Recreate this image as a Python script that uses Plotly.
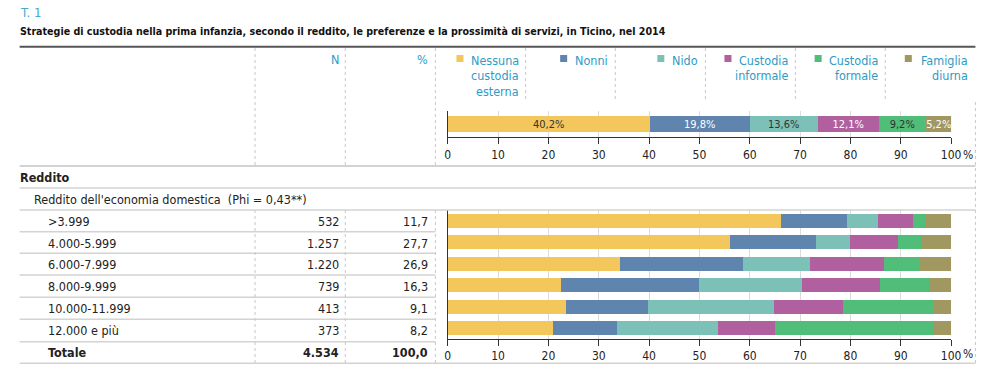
import plotly.graph_objects as go

W, H = 989, 368
FONT = "DejaVu Sans Condensed"
BLUE_TXT = "#2e9bc4"

# ---------------- data ----------------
series = ["Nessuna custodia esterna", "Nonni", "Nido", "Custodia informale",
          "Custodia formale", "Famiglia diurna"]
legend_lines = [["Nessuna", "custodia", "esterna"], ["Nonni"], ["Nido"],
                ["Custodia", "informale"], ["Custodia", "formale"], ["Famiglia", "diurna"]]
colors = ["#f4c75c", "#5f84ae", "#7bc1b7", "#b0609f", "#50bd78", "#a19761"]
text_colors = ["#333333", "#ffffff", "#333333", "#ffffff", "#333333", "#ffffff"]

total_shares = [40.2, 19.8, 13.6, 12.1, 9.2, 5.2]

rows = [">3.999", "4.000-5.999", "6.000-7.999", "8.000-9.999", "10.000-11.999", "12.000 e più"]
row_n = [532, 1257, 1220, 739, 413, 373]
row_pct = [11.7, 27.7, 26.9, 16.3, 9.1, 8.2]
total_n = 4534
total_pct = 100.0

# shares per series, one value per income row
shares = {
    "Nessuna custodia esterna": [66.1, 56.1, 34.2, 22.4, 23.4, 20.8],
    "Nonni":                    [13.1, 17.0, 24.5, 27.4, 16.4, 12.8],
    "Nido":                     [6.2, 6.8, 13.2, 20.5, 25.0, 20.1],
    "Custodia informale":       [7.0, 9.5, 14.8, 15.6, 13.6, 11.3],
    "Custodia formale":         [2.4, 4.6, 7.1, 9.7, 17.9, 31.4],
    "Famiglia diurna":          [5.2, 6.0, 6.2, 4.4, 3.7, 3.6],
}

tick_vals = [0, 10, 20, 30, 40, 50, 60, 70, 80, 90, 100]
tick_text = ["0", "10", "20", "30", "40", "50", "60", "70", "80", "90", "100"]

title_num = "T. 1"
title = ("Strategie di custodia nella prima infanzia, secondo il reddito, le preferenze "
         "e la prossimità di servizi, in Ticino, nel 2014")
section = "Reddito"
subsection = "Reddito dell'economia domestica  (Phi = 0,43**)"
total_label = "Totale"


def fmt_int(v):
    return f"{v:,}".replace(",", ".")


def fmt_dec(v):
    return f"{v:.1f}".replace(".", ",")


# horizontal placement correction observed in the captured page
SX, OX = 0.985, 3.4


def px(x):
    return ((x - OX) / SX) / W


def py(y):
    return 1 - y / H


fig = go.Figure()

# top bar (overall)
for s, c, tc, v in zip(series, colors, text_colors, total_shares):
    fig.add_trace(go.Bar(
        x=[v], y=["Totale"], orientation="h", marker=dict(color=c, line=dict(width=0)),
        text=[v], texttemplate="%{x:.1f}%", textposition="inside",
        insidetextanchor="middle", constraintext="none",
        textfont=dict(color=tc, size=11, family=FONT),
        width=0.62, xaxis="x", yaxis="y", showlegend=False, hoverinfo="skip"))

# bottom bars (by income)
for s, c in zip(series, colors):
    fig.add_trace(go.Bar(
        x=shares[s], y=rows, orientation="h", marker=dict(color=c, line=dict(width=0)),
        width=0.67, xaxis="x2", yaxis="y2", showlegend=False, hoverinfo="skip"))

X0, X1 = 447.3, 949.7
xaxis_common = dict(
    range=[0, 100], tickmode="array", tickvals=tick_vals, ticktext=tick_text,
    showgrid=True, gridcolor="#dcdcdc", gridwidth=1, zeroline=False,
    showline=True, linecolor="#333333", linewidth=1,
    ticks="outside", ticklen=6, tickcolor="#333333", tickwidth=1,
    tickfont=dict(size=12, color="#222222", family=FONT), fixedrange=True)

fig.update_layout(
    width=W, height=H, margin=dict(l=0, r=0, t=0, b=0), autosize=False,
    paper_bgcolor="white", plot_bgcolor="white",
    barmode="stack", bargap=0, separators=",.",
    font=dict(family=FONT, color="#222222", size=12.5),
    xaxis=dict(domain=[px(X0), px(X1)], anchor="y", **xaxis_common),
    yaxis=dict(domain=[py(137.3), py(111)], anchor="x", range=[-0.5, 0.5],
               showticklabels=False, showgrid=False, zeroline=False,
               showline=True, linecolor="#333333", fixedrange=True),
    xaxis2=dict(domain=[px(X0), px(X1)], anchor="y2", **xaxis_common),
    yaxis2=dict(domain=[py(338.7), py(209.7)], anchor="x2", type="category",
                categoryorder="array", categoryarray=rows, autorange="reversed",
                showticklabels=False, showgrid=False, zeroline=False,
                showline=True, linecolor="#333333", fixedrange=True),
)

ann = []
shapes = []


def text(x, y, t, anchor="left", size=12.5, color="#222222", bold=False):
    ann.append(dict(x=px(x), y=py(y), xref="paper", yref="paper", text=(f"<b>{t}</b>" if bold else t),
                    showarrow=False, xanchor=anchor, yanchor="middle", borderpad=0,
                    font=dict(size=size, color=color, family=FONT)))


def hline(y, x0, x1, color="#d0d0d0", width=1.5, dash="solid"):
    shapes.append(dict(type="line", xref="paper", yref="paper", x0=px(x0), x1=px(x1),
                       y0=py(y), y1=py(y), line=dict(color=color, width=width, dash=dash)))


def vline(x, y0, y1, color="#c8c8c8", width=1, dash="dot"):
    shapes.append(dict(type="line", xref="paper", yref="paper", x0=px(x), x1=px(x),
                       y0=py(y0), y1=py(y1), line=dict(color=color, width=width, dash=dash)))


# titles
text(19, 12, title_num, size=13, color="#4aa8d0")
text(19, 31, title, size=10.6, color="#111111", bold=True)

# frame lines
hline(46.8, 20, 974, color="#555555", width=2)
hline(166, 20, 974, color="#d3d3d3", width=2)
hline(188, 20, 974, color="#d3d3d3", width=1.5)
hline(210, 20, 974, color="#d3d3d3", width=1.5)
row_lines = [231.7, 253.3, 275, 297.3, 319.3, 341.7]
for yl in row_lines:
    hline(yl, 20, 435, color="#d3d3d3", width=1.5)
hline(363.3, 20, 974, color="#d3d3d3", width=1.5)

for xv in [255, 345, 435]:
    vline(xv, 48, 166)
    vline(xv, 210, 363)
for xv in [525, 614.5, 704.5, 794.3, 884]:
    vline(xv, 48, 102)
vline(974, 102, 363)

# header
text(339.5, 59, "N", anchor="right", color=BLUE_TXT)
text(428.5, 59, "%", anchor="right", color=BLUE_TXT)

# legend (manual)
col_right = [519, 608.5, 698, 788, 878, 968]
sq_left = [456, 559.5, 656.5, 723.5, 813.5, 903.5]
for lines, c, xr, xs in zip(legend_lines, colors, col_right, sq_left):
    for i, ln in enumerate(lines):
        text(xr, 60 + i * 15.6, ln, anchor="right", color=BLUE_TXT)
    shapes.append(dict(type="rect", xref="paper", yref="paper", x0=px(xs), x1=px(xs + 7),
                       y0=py(62), y1=py(55), fillcolor=c, line=dict(width=0)))

# table body
text(19, 177, section, bold=True)
text(33, 199.5, subsection)
row_y = [221.5, 243, 264.5, 286.5, 308.5, 330.5]
for lab, n, p, yv in zip(rows, row_n, row_pct, row_y):
    text(47, yv, lab)
    text(339.5, yv, fmt_int(n), anchor="right")
    text(428.5, yv, fmt_dec(p), anchor="right")
text(47, 352.5, total_label, bold=True)
text(339.5, 352.5, fmt_int(total_n), anchor="right", bold=True)
text(428.5, 352.5, fmt_dec(total_pct), anchor="right", bold=True)

# percent sign after the 100 tick labels
text(960.5, 155, "%", size=12)
text(960.5, 354.3, "%", size=12)

fig.update_layout(annotations=ann, shapes=shapes)

page_css = ("var s=document.createElement('style');"
            "s.innerHTML='html,body{margin:0;padding:0;overflow:hidden}';"
            "document.head.appendChild(s);")
fig.write_html("out.html", post_script=page_css,
               config={"displayModeBar": False, "responsive": False})
